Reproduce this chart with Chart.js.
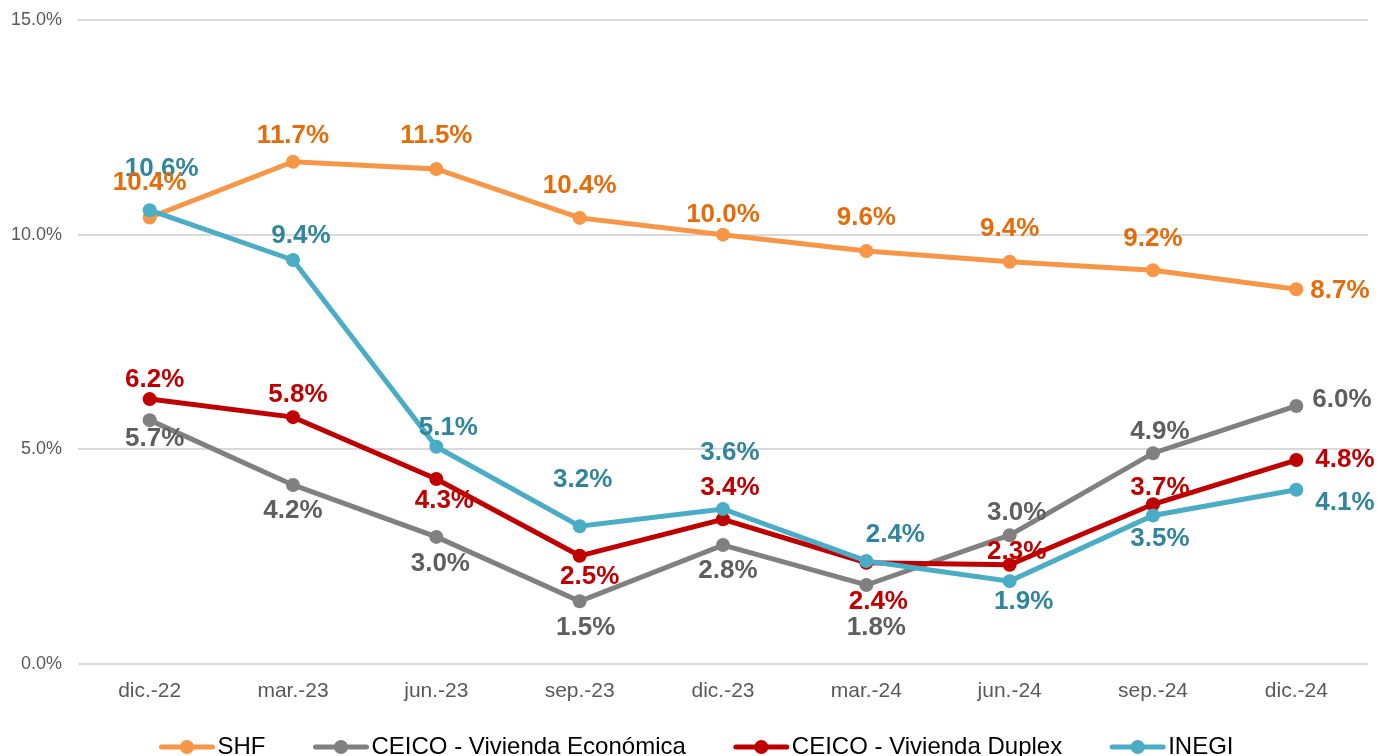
<!DOCTYPE html>
<html>
<head>
<meta charset="utf-8">
<script src="https://cdn.jsdelivr.net/npm/chart.js@4/dist/chart.umd.min.js"></script>
<style>
    html, body { margin: 0; padding: 0; background: #fff; }
    #wrap { width: 1377px; height: 756px; }
</style>
</head>
<body>
<div id="wrap"><canvas id="chart" width="1377" height="756"></canvas></div>
<script>
const categories = ['dic.-22', 'mar.-23', 'jun.-23', 'sep.-23', 'dic.-23', 'mar.-24', 'jun.-24', 'sep.-24', 'dic.-24'];
const yTicks = [0, 5, 10, 15];

const shf = [10.4, 11.7, 11.53, 10.39, 10.0, 9.62, 9.37, 9.17, 8.73];
const ceicoEconomica = [5.68, 4.17, 2.96, 1.46, 2.77, 1.84, 3.0, 4.91, 6.01];
const ceicoDuplex = [6.17, 5.75, 4.31, 2.52, 3.37, 2.36, 2.31, 3.72, 4.75];
const inegi = [10.57, 9.41, 5.06, 3.21, 3.61, 2.4, 1.93, 3.46, 4.06];

// label offsets from each point [dx, dy]; the last point's label sits to the right
const shfLabelPos = [[0, -35], [0, -26], [0, -33], [0, -32], [0, -20], [0, -33], [0, -33], [0, -31], [14, 2]];
const economicaLabelPos = [[5, 19], [0, 26], [4, 27], [6, 27], [5, 26], [10, 43], [7, -22], [7, -21], [16, -6]];
const duplexLabelPos = [[5, -19], [5, -22], [8, 22], [10, 21], [7, -31], [12, 39], [7, -13], [7, -16], [19, 0]];
const inegiLabelPos = [[12, -41], [8, -24], [12, -19], [3, -46], [7, -56], [29, -26], [14, 21], [7, 23], [19, 13]];

const FONT = '"Liberation Sans", Arial, sans-serif';

const series = [
    { name: 'SHF', data: shf, color: '#F79646', labelColor: '#E46C0A', pos: shfLabelPos, order: 3 },
    { name: 'CEICO - Vivienda Económica', data: ceicoEconomica, color: '#808080', labelColor: '#5F5F5F', pos: economicaLabelPos, order: 2 },
    { name: 'CEICO - Vivienda Duplex', data: ceicoDuplex, color: '#C00000', labelColor: '#C00000', pos: duplexLabelPos, order: 1 },
    { name: 'INEGI', data: inegi, color: '#4BACC6', labelColor: '#31859C', pos: inegiLabelPos, order: 0 }
];

// value labels drawn next to each point
const pointLabels = {
    id: 'pointLabels',
    afterDatasetsDraw(chart) {
        const ctx = chart.ctx;
        ctx.save();
        ctx.font = 'bold 26px ' + FONT;
        ctx.textBaseline = 'middle';
        [3, 2, 1, 0].forEach(i => {
            const s = series[i];
            const meta = chart.getDatasetMeta(i);
            meta.data.forEach((pt, j) => {
                const [dx, dy] = s.pos[j];
                ctx.fillStyle = s.labelColor;
                ctx.textAlign = j === s.data.length - 1 ? 'left' : 'center';
                ctx.fillText(s.data[j].toFixed(1) + '%', pt.x + dx, pt.y + dy);
            });
        });
        ctx.restore();
    }
};

// legend at the bottom: line with a dot, then the name
const bottomLegend = {
    id: 'bottomLegend',
    afterDraw(chart) {
        const ctx = chart.ctx;
        ctx.save();
        ctx.font = '24px ' + FONT;
        const lineW = 55, gapText = 3, gapItem = 48;
        let total = 0;
        series.forEach((s, i) => {
            total += lineW + gapText + ctx.measureText(s.name).width;
            if (i < series.length - 1) total += gapItem;
        });
        let x = (chart.width - total) / 2 + 8;
        const y = 747;
        series.forEach(s => {
            ctx.strokeStyle = s.color;
            ctx.lineWidth = 5;
            ctx.lineCap = 'round';
            ctx.beginPath();
            ctx.moveTo(x + 2, y);
            ctx.lineTo(x + lineW - 2, y);
            ctx.stroke();
            ctx.fillStyle = s.color;
            ctx.beginPath();
            ctx.arc(x + lineW / 2, y, 7, 0, Math.PI * 2);
            ctx.fill();
            ctx.fillStyle = '#000';
            ctx.textAlign = 'left';
            ctx.textBaseline = 'middle';
            ctx.fillText(s.name, x + lineW + gapText, y);
            x += lineW + gapText + ctx.measureText(s.name).width + gapItem;
        });
        ctx.restore();
    }
};

const ctx = document.getElementById('chart').getContext('2d');
new Chart(ctx, {
    type: 'line',
    data: {
        labels: categories,
        datasets: series.map(s => ({
            label: s.name,
            data: s.data,
            borderColor: s.color,
            backgroundColor: s.color,
            borderWidth: 5,
            pointRadius: 7,
            pointHoverRadius: 7,
            pointBorderWidth: 0,
            tension: 0,
            order: s.order
        }))
    },
    options: {
        responsive: false,
        animation: false,
        layout: { padding: { top: 20, right: 9, bottom: 40, left: 0 } },
        plugins: {
            legend: { display: false },
            tooltip: { enabled: false }
        },
        scales: {
            x: {
                offset: true,
                grid: { display: false, drawTicks: false },
                border: { display: false },
                ticks: { color: '#595959', font: { family: FONT, size: 21 }, padding: 15 },
                afterFit(scale) { scale.height = 52; }
            },
            y: {
                min: 0,
                max: 15,
                afterBuildTicks(scale) { scale.ticks = yTicks.map(v => ({ value: v })); },
                grid: { color: '#D9D9D9', lineWidth: 2, drawTicks: false },
                border: { display: false },
                ticks: {
                    color: '#595959',
                    font: { family: FONT, size: 18 },
                    padding: 16,
                    callback: v => v.toFixed(1) + '%'
                },
                afterFit(scale) {
                    scale.width = 78;
                    scale.paddingTop = 0;
                    scale.paddingBottom = 0;
                }
            }
        }
    },
    plugins: [pointLabels, bottomLegend]
});
</script>
</body>
</html>
